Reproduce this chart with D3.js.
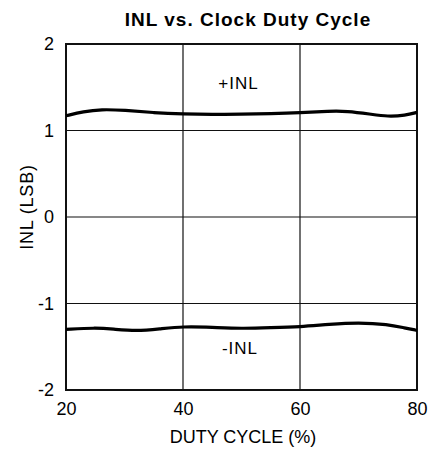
<!DOCTYPE html>
<html><head><meta charset="utf-8">
<script src="https://cdn.jsdelivr.net/npm/d3@7"></script>
<style>body{margin:0;background:#fff;} text{font-family:"Liberation Sans",Arial,sans-serif;fill:#000;}</style>
</head><body>
<svg id="c" width="430" height="449"></svg>
<script>
const xTicks = [20, 40, 60, 80];
const yTicks = [-2, -1, 0, 1, 2];
const dutyCycle = [20, 23, 26, 30, 35, 40, 45, 50, 55, 60, 65, 68, 72, 75, 78, 80];
const inlPos = [1.17, 1.22, 1.245, 1.235, 1.205, 1.19, 1.185, 1.19, 1.195, 1.205, 1.225, 1.225, 1.19, 1.16, 1.175, 1.21];
const dutyCycleNeg = [20, 25, 28, 32, 36, 40, 45, 50, 55, 60, 65, 70, 75, 78, 80];
const inlNeg = [-1.30, -1.28, -1.295, -1.32, -1.295, -1.265, -1.275, -1.29, -1.28, -1.27, -1.24, -1.22, -1.24, -1.285, -1.31];

const svg = d3.select("#c");
const L = 66, R = 417, T = 44, B = 390;
const x = d3.scaleLinear().domain([20, 80]).range([L, R]);
const y = d3.scaleLinear().domain([-2, 2]).range([B, T]);
const fmt = d => String(d);

// grid
svg.append("g").selectAll("line").data(xTicks.slice(1, -1)).join("line")
  .attr("x1", d => x(d)).attr("x2", d => x(d)).attr("y1", T).attr("y2", B)
  .attr("stroke", "#111").attr("stroke-width", 1.2);
svg.append("g").selectAll("line").data(yTicks.slice(1, -1)).join("line")
  .attr("x1", L).attr("x2", R).attr("y1", d => y(d)).attr("y2", d => y(d))
  .attr("stroke", "#111").attr("stroke-width", 1.2);

// frame
svg.append("rect").attr("x", L).attr("y", T).attr("width", R - L).attr("height", B - T)
  .attr("fill", "none").attr("stroke", "#111").attr("stroke-width", 2);

// axes tick labels
const xAxis = d3.axisBottom(x).tickValues(xTicks).tickSize(0).tickPadding(12).tickFormat(fmt);
const gx = svg.append("g").attr("transform", `translate(0,${B})`).call(xAxis);
gx.select(".domain").remove();
gx.selectAll("text").attr("font-size", 18).attr("font-family", "Liberation Sans, Arial, sans-serif").attr("fill", "#000");

const yAxis = d3.axisLeft(y).tickValues(yTicks).tickSize(0).tickPadding(12).tickFormat(fmt);
const gy = svg.append("g").attr("transform", `translate(${L},0)`).call(yAxis);
gy.select(".domain").remove();
gy.selectAll("text").attr("font-size", 18).attr("font-family", "Liberation Sans, Arial, sans-serif").attr("fill", "#000");

// curves
const line = d3.line().curve(d3.curveBasis);
svg.append("path").attr("d", line(dutyCycle.map((d, i) => [x(d), y(inlPos[i])])))
  .attr("fill", "none").attr("stroke", "#000").attr("stroke-width", 3.2);
svg.append("path").attr("d", line(dutyCycleNeg.map((d, i) => [x(d), y(inlNeg[i])])))
  .attr("fill", "none").attr("stroke", "#000").attr("stroke-width", 3.2);

// labels
svg.append("text").attr("x", 238.5).attr("y", 89).attr("text-anchor", "middle").attr("font-size", 17).attr("letter-spacing", 1).text("+INL");
svg.append("text").attr("x", 240).attr("y", 354).attr("text-anchor", "middle").attr("font-size", 17).attr("letter-spacing", 1).text("-INL");
svg.append("text").attr("x", 248).attr("y", 26).attr("text-anchor", "middle").attr("font-size", 19).attr("letter-spacing", 1).attr("font-weight", "bold").text("INL vs. Clock Duty Cycle");
svg.append("text").attr("x", 243).attr("y", 443).attr("text-anchor", "middle").attr("font-size", 18).text("DUTY CYCLE (%)");
svg.append("text").attr("transform", `translate(33,207) rotate(-90)`).attr("text-anchor", "middle").attr("font-size", 18).attr("letter-spacing", 0.8).text("INL (LSB)");
</script>
</body></html>
